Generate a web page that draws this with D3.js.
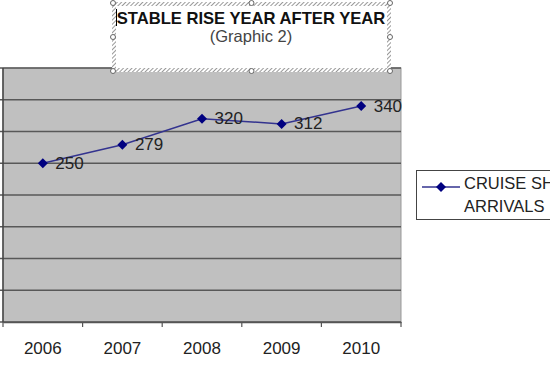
<!doctype html>
<html>
<head>
<script src="https://d3js.org/d3.v7.min.js"></script>
<style>
  body { margin: 0; background: #fff; }
  text { font-family: "Liberation Sans", Arial, sans-serif; }
</style>
</head>
<body>
<script>
// data
var years = ["2006", "2007", "2008", "2009", "2010"];
var arrivals = [250, 279, 320, 312, 340];
var yTicks = [0, 50, 100, 150, 200, 250, 300, 350, 400];
var seriesName = ["CRUISE SHIP", "ARRIVALS"];

var width = 550, height = 370;
var plot = {left: 3, right: 401, top: 68, bottom: 322};

var svg = d3.select("body").append("svg")
    .attr("width", width)
    .attr("height", height);

var xScale = d3.scaleBand()
    .domain(years)
    .range([plot.left, plot.right]);

var yScale = d3.scaleLinear()
    .domain([0, 400])
    .range([plot.bottom, plot.top]);

// plot area
svg.append("rect")
    .attr("x", plot.left)
    .attr("y", plot.top)
    .attr("width", plot.right - plot.left)
    .attr("height", plot.bottom - plot.top)
    .attr("fill", "#c0c0c0")
    .attr("stroke", "#999")
    .attr("stroke-width", 1);

// gridlines
svg.append("g")
  .selectAll("line")
  .data(yTicks)
  .join("line")
    .attr("x1", plot.left - 4)
    .attr("x2", plot.right)
    .attr("y1", d => yScale(d))
    .attr("y2", d => yScale(d))
    .attr("stroke", "#585858")
    .attr("stroke-width", 1.5);

// y axis line
svg.append("line")
    .attr("x1", plot.left).attr("x2", plot.left)
    .attr("y1", plot.top).attr("y2", plot.bottom)
    .attr("stroke", "#444").attr("stroke-width", 1.5);

// x axis
var x_axis = d3.axisBottom(xScale)
    .tickSize(0)
    .tickPadding(20);

var gx = svg.append("g")
    .attr("transform", `translate(0, ${plot.bottom})`)
    .call(x_axis);
gx.select(".domain").attr("stroke", "#555").attr("stroke-width", 1.5);
gx.selectAll("text")
    .attr("font-size", 17)
    .attr("fill", "#222");

// category boundary ticks
svg.append("g")
  .selectAll("line")
  .data(years.concat(["end"]))
  .join("line")
    .attr("x1", (d, i) => plot.left + i * xScale.bandwidth())
    .attr("x2", (d, i) => plot.left + i * xScale.bandwidth())
    .attr("y1", plot.bottom)
    .attr("y2", plot.bottom + 5)
    .attr("stroke", "#555")
    .attr("stroke-width", 1.2);

var cx = d => xScale(d) + xScale.bandwidth() / 2;

// line
svg.append("path")
    .datum(years)
    .attr("fill", "none")
    .attr("stroke", "#33338f")
    .attr("stroke-width", 1.5)
    .attr("d", d3.line()
      .x(d => cx(d))
      .y((d, i) => yScale(arrivals[i])));

// markers
svg.append("g")
  .selectAll("path")
  .data(years)
  .join("path")
    .attr("transform", (d, i) => `translate(${cx(d)}, ${yScale(arrivals[i])})`)
    .attr("d", "M0,-5L5,0L0,5L-5,0Z")
    .attr("fill", "#000080");

// data labels
svg.append("g")
  .selectAll("text")
  .data(years)
  .join("text")
    .attr("x", d => cx(d) + 12.5)
    .attr("y", (d, i) => yScale(arrivals[i]) + 5.5)
    .attr("font-size", 17)
    .attr("fill", "#222")
    .text((d, i) => arrivals[i]);

// title box (selected text box look)
var defs = svg.append("defs");
var pat = defs.append("pattern")
    .attr("id", "hatch")
    .attr("width", 3).attr("height", 3)
    .attr("patternUnits", "userSpaceOnUse")
    .attr("patternTransform", "rotate(45)");
pat.append("rect").attr("width", 3).attr("height", 3).attr("fill", "#fff");
pat.append("line").attr("x1", 0).attr("y1", 0).attr("x2", 0).attr("y2", 3)
    .attr("stroke", "#777").attr("stroke-width", 1.5);

var tb = {x: 113, y: 3, w: 277, h: 68};
svg.append("rect")
    .attr("x", tb.x - 1).attr("y", tb.y - 1)
    .attr("width", tb.w + 2).attr("height", tb.h + 2)
    .attr("fill", "url(#hatch)");
svg.append("rect")
    .attr("x", tb.x + 3).attr("y", tb.y + 3)
    .attr("width", tb.w - 6).attr("height", tb.h - 6)
    .attr("fill", "#fff");

var handles = [[0, 0], [0.5, 0], [1, 0], [0, 0.5], [1, 0.5], [0, 1], [0.5, 1], [1, 1]];
svg.append("g")
  .selectAll("circle")
  .data(handles)
  .join("circle")
    .attr("cx", d => tb.x + d[0] * tb.w)
    .attr("cy", d => tb.y + d[1] * tb.h)
    .attr("r", 2.5)
    .attr("fill", "#fff")
    .attr("stroke", "#666");

svg.append("text")
    .attr("x", 251)
    .attr("y", 24)
    .attr("text-anchor", "middle")
    .attr("font-size", 16.6)
    .attr("font-weight", "bold")
    .attr("fill", "#111")
    .text("STABLE RISE YEAR AFTER YEAR");
svg.append("line")
    .attr("x1", 116.5).attr("x2", 116.5).attr("y1", 9).attr("y2", 26)
    .attr("stroke", "#000").attr("stroke-width", 1);

svg.append("text")
    .attr("x", 251)
    .attr("y", 42)
    .attr("text-anchor", "middle")
    .attr("font-size", 16.5)
    .attr("fill", "#444")
    .text("(Graphic 2)");

// legend
svg.append("rect")
    .attr("x", 416.5).attr("y", 170.5)
    .attr("width", 150).attr("height", 49)
    .attr("fill", "#fff")
    .attr("stroke", "#444");
svg.append("line")
    .attr("x1", 422).attr("x2", 460)
    .attr("y1", 187).attr("y2", 187)
    .attr("stroke", "#33338f").attr("stroke-width", 1.5);
svg.append("path")
    .attr("transform", "translate(441,187)")
    .attr("d", "M0,-5L5,0L0,5L-5,0Z")
    .attr("fill", "#000080");
svg.append("g")
  .selectAll("text")
  .data(seriesName)
  .join("text")
    .attr("x", 464)
    .attr("y", (d, i) => 189 + i * 23)
    .attr("font-size", 16.5)
    .attr("fill", "#222")
    .text(d => d);
</script>
</body>
</html>
